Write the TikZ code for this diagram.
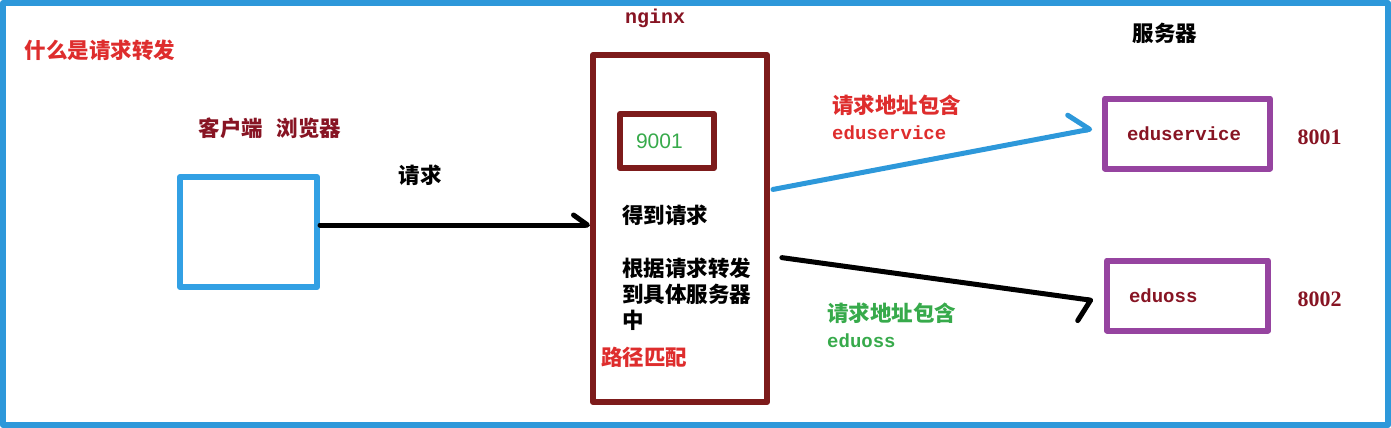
\documentclass[tikz,border=0pt]{standalone}
\usepackage{fontspec}
\setmainfont{Liberation Serif}
\newfontfamily\cjk{Noto Sans CJK SC}
\newfontfamily\monofont{Liberation Mono}
\newfontfamily\sansfont{Liberation Sans}
\usetikzlibrary{positioning,arrows.meta}
\definecolor{frameblue}{RGB}{45,152,218}
\definecolor{boxblue}{RGB}{50,160,228}
\definecolor{nginxred}{RGB}{125,27,27}
\definecolor{labelred}{RGB}{135,20,35}
\definecolor{titlered}{RGB}{222,45,45}
\definecolor{portgreen}{RGB}{55,170,75}
\definecolor{srvpurple}{RGB}{150,68,160}
\tikzset{
  box/.style    = {draw, line width=6pt, inner sep=0pt},
  srv/.style    = {box, draw=srvpurple, text width=#1, align=left,
                   inner xsep=22pt, minimum height=70pt, text=labelred,
                   font=\monofont\bfseries\fontsize{19}{22}\selectfont},
  zh/.style     = {inner sep=0pt, font=\cjk\bfseries\fontsize{21.5}{26}\selectfont},
  mono/.style   = {font=\monofont\bfseries\fontsize{19}{22}\selectfont},
  portnum/.style = {font=\bfseries\fontsize{22}{26}\selectfont, text=labelred, yshift=-4pt},
  req/.style    = {line width=5pt, line cap=round}
}

\begin{document}
\begin{tikzpicture}
  [
    x=1pt, y=-1pt,
    line join=round
  ]
  \useasboundingbox (0,0) rectangle (1391,428);
  \draw[frameblue, line width=6pt] (3,3) rectangle (1388,425);

  \node[zh, text=titlered] (title) at (100,50) {什么是请求转发};

  \node[box, draw=boxblue, minimum width=137pt, minimum height=110pt] (client) at (248.5,232) {};
  \node[zh, text=labelred] (clientlabel) at (270,128) {客户端\hspace{14pt}浏览器};

  \node[box, draw=nginxred, minimum width=174pt, minimum height=347pt] (nginx) at (680,228.5) {};
  \node[mono, text=labelred, font=\monofont\bfseries\fontsize{20}{24}\selectfont] (nginxlabel) at (655,18) {nginx};
  \node[box, draw=nginxred, minimum width=94pt, minimum height=54pt,
        text width=62pt, inner xsep=16pt, align=left, text=portgreen,
        font=\sansfont\fontsize{21}{24}\selectfont] (port) at (667,141) {9001};
  \node[zh, anchor=west] (got) at (622,215) {得到请求};
  \node[zh, anchor=west, align=left] (fwd) at (622,294) {根据请求转发\\到具体服务器\\中};
  \node[zh, anchor=west, text=titlered] (match) at (601,357) {路径匹配};

  \node[zh] (srvlabel) at (1165,33) {服务器};
  \node[srv=121pt] (svc) at (1187.5,133.5) {eduservice};
  \node[srv=117pt] (oss) at (1187.5,295.5) {eduoss};
  \node[right=21pt of svc, portnum] (svcport) {8001};
  \node[right=23pt of oss, portnum] (ossport) {8002};

  \node[zh] (reqlabel) at (420,175) {请求};
  \node[zh, text=titlered, anchor=west, align=left] (svcrule) at (832,117)
    {请求地址包含\\{\monofont\fontsize{19}{26}\selectfont eduservice}};
  \node[zh, text=portgreen, anchor=west, align=left] (ossrule) at (827,325)
    {请求地址包含\\{\monofont\fontsize{19}{26}\selectfont eduoss}};

  \draw[req, -{Straight Barb[harpoon, round, length=14pt, width=20pt]}]
    ([yshift=7pt]client.east) -- ([yshift=3.5pt]nginx.west);
  \draw[req, frameblue, shorten <=3pt, shorten >=10pt,
        -{Straight Barb[harpoon, round, length=19pt, width=36pt]}]
    ([yshift=38.5pt]nginx.east) -- ([yshift=6.5pt]svc.west);
  \draw[req, shorten <=12pt, shorten >=11pt,
        -{Straight Barb[harpoon, swap, round, length=10pt, width=44pt]}]
    ([yshift=-27.5pt]nginx.east) -- ([yshift=-6.5pt]oss.west);
\end{tikzpicture}
\end{document}
